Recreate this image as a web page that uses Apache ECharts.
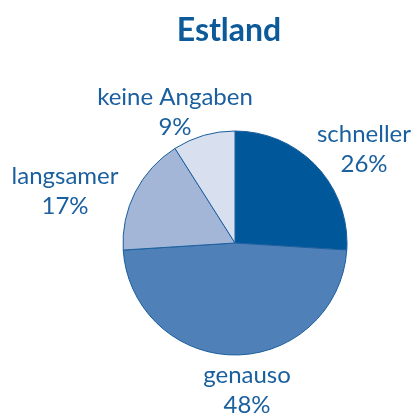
<!DOCTYPE html>
<html>
<head>
<meta charset="utf-8">
<script src="https://cdn.jsdelivr.net/npm/echarts@6/dist/echarts.min.js"></script>
<style>
  html, body { margin: 0; padding: 0; background: #fff; }
  #chart { width: 417px; height: 414px; }
</style>
</head>
<body>
<div id="chart"></div>
<script>
const categories = ['schneller', 'genauso', 'langsamer', 'keine Angaben'];
const values = [26, 48, 17, 9];
const colors = ['#00589a', '#5080b8', '#a4b6d8', '#d8dfef'];

// label anchor points (centre of the two-line label)
const labelSpots = [[364, 149], [247, 390], [65, 191], [175, 112]];

const chart = echarts.init(document.getElementById('chart'));

chart.setOption({
    animation: false,
    title: {
        text: 'Estland',
        left: 224,
        top: 10,
        textAlign: 'center',
        textStyle: { fontFamily: 'Lato', fontWeight: 'bold', fontSize: 32, color: '#0d5a9a' }
    },
    series: [{
        type: 'pie',
        center: [235, 243],
        radius: 112,
        startAngle: 90,
        clockwise: true,
        avoidLabelOverlap: false,
        data: categories.map((name, i) => ({
            name: name,
            value: values[i],
            itemStyle: { color: colors[i] }
        })),
        itemStyle: { borderColor: '#1a5f9e', borderWidth: 1 },
        label: {
            show: true,
            formatter: (p) => `${p.name}\n${p.value}%`,
            fontFamily: 'Lato',
            fontSize: 24,
            lineHeight: 30,
            color: '#1a5f9e',
            align: 'center',
            overflow: 'none',
            width: 200
        },
        labelLine: { show: false },
        labelLayout: (params) => ({
            x: labelSpots[params.dataIndex][0],
            y: labelSpots[params.dataIndex][1],
            align: 'center',
            verticalAlign: 'middle'
        })
    }]
});
</script>
</body>
</html>
